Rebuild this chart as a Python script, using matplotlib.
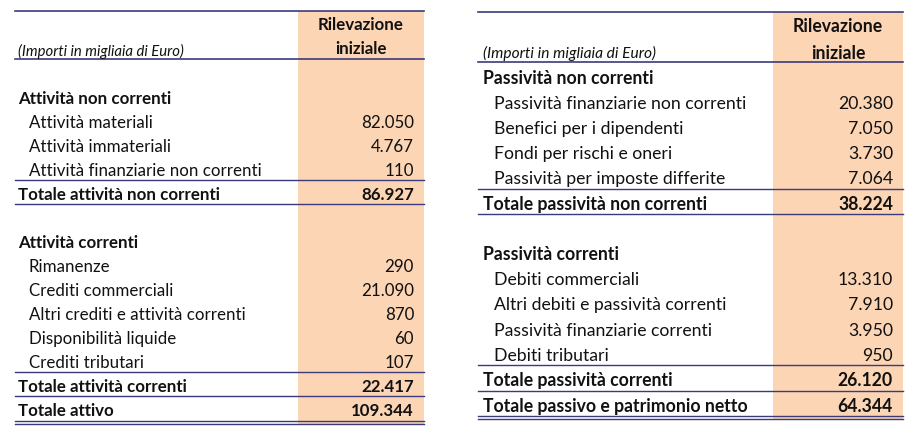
import matplotlib.pyplot as plt

# ---------------------------------------------------------------------------
# Data
# ---------------------------------------------------------------------------
HEADER = ["Rilevazione", "iniziale"]
NOTE = "(Importi in migliaia di Euro)"

# kind: "b" = blank, "h" = section header, "i" = item, "t" = total
left_labels = [
    "", "Attività non correnti", "Attività materiali", "Attività immateriali",
    "Attività finanziarie non correnti", "Totale attività non correnti", "",
    "Attività correnti", "Rimanenze", "Crediti commerciali",
    "Altri crediti e attività correnti", "Disponibilità liquide",
    "Crediti tributari", "Totale attività correnti", "Totale attivo",
]
left_values = ["", "", "82.050", "4.767", "110", "86.927", "", "",
               "290", "21.090", "870", "60", "107", "22.417", "109.344"]
left_kinds = ["b", "h", "i", "i", "i", "t", "b", "h",
              "i", "i", "i", "i", "i", "t", "t"]

right_labels = [
    "Passività non correnti", "Passività finanziarie non correnti",
    "Benefici per i dipendenti", "Fondi per rischi e oneri",
    "Passività per imposte differite", "Totale passività non correnti", "",
    "Passività correnti", "Debiti commerciali",
    "Altri debiti e passività correnti", "Passività finanziarie correnti",
    "Debiti tributari", "Totale passività correnti",
    "Totale passivo e patrimonio netto",
]
right_values = ["", "20.380", "7.050", "3.730", "7.064", "38.224", "", "",
                "13.310", "7.910", "3.950", "950", "26.120", "64.344"]
right_kinds = ["h", "i", "i", "i", "i", "t", "b", "h",
               "i", "i", "i", "i", "t", "t"]

SHADE = "#fcd5b4"
LINE = "#3b3b7a"
TEXT = "#111111"
FONT = "Lato"

W, H = 913, 433
fig = plt.figure(figsize=(W / 100, H / 100), dpi=100)
ax = fig.add_axes([0, 0, 1, 1])
ax.set_xlim(0, W)
ax.set_ylim(H, 0)
ax.axis("off")


def draw_table(labels, values, kinds, x0, x1, shade_x0, top, head_line,
               row0, pitch, fs, x_head, x_item, x_val, note_y, head_ys,
               line_after, bottom_gap):
    n = len(labels)
    bottom = row0 + (n - 1 + 0.5) * pitch - 1.5
    # shaded value column
    ax.fill_between([shade_x0, x1], top, bottom + bottom_gap, color=SHADE,
                    lw=0, zorder=0)
    # rules
    ax.plot([x0, x1], [top, top], color=LINE, lw=1.2)
    ax.plot([x0, x1], [head_line, head_line], color=LINE, lw=1.2)
    for i in line_after:
        y = row0 + (i + 0.5) * pitch - 1.5
        ax.plot([x0, x1], [y, y], color=LINE, lw=1.0)
    ax.plot([x0, x1], [bottom, bottom], color=LINE, lw=1.0)
    ax.plot([x0, x1], [bottom + bottom_gap, bottom + bottom_gap],
            color=LINE, lw=1.0)

    # header
    xc = (shade_x0 + x1) / 2
    for txt, y in zip(HEADER, head_ys):
        ax.text(xc, y, txt, ha="center", va="center_baseline", fontsize=fs,
                fontweight="bold", family=FONT, color=TEXT)
    ax.text(x_head, note_y, NOTE, ha="left", va="center_baseline",
            fontsize=fs * 0.88, style="italic", family=FONT, color=TEXT)

    for i, (lab, val, k) in enumerate(zip(labels, values, kinds)):
        y = row0 + i * pitch
        if k == "b":
            continue
        bold = k in ("h", "t")
        x = x_item if k == "i" else x_head
        ax.text(x, y, lab, ha="left", va="center_baseline", fontsize=fs,
                fontweight="bold" if bold else "normal", family=FONT,
                color=TEXT)
        if val:
            ax.text(x_val, y, val, ha="right", va="center_baseline",
                    fontsize=fs, fontweight="bold" if bold else "normal",
                    family=FONT, color=TEXT)


draw_table(left_labels, left_values, left_kinds, x0=15, x1=424,
           shade_x0=298, top=11, head_line=59, row0=73, pitch=24.07,
           fs=12.2, x_head=18, x_item=29, x_val=414, note_y=50,
           head_ys=[24, 48], line_after=[4, 5, 12, 13], bottom_gap=3.5)

draw_table(right_labels, right_values, right_kinds, x0=478, x1=903,
           shade_x0=773, top=12, head_line=62, row0=77, pitch=25.2,
           fs=12.7, x_head=483, x_item=494, x_val=893, note_y=52,
           head_ys=[25, 52], line_after=[4, 5, 11, 12], bottom_gap=3.0)

fig.savefig("out.png", dpi=100)
